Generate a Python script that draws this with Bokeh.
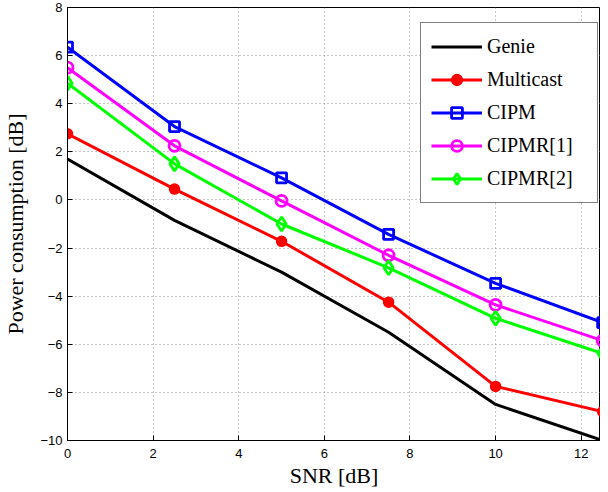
from bokeh.plotting import figure
from bokeh.models import FixedTicker, Range1d, Legend, LegendItem
from bokeh.embed import file_html
from bokeh.resources import INLINE

snr = [0, 2.5, 5, 7.5, 10, 12.5]
genie = [1.7, -0.85, -3.0, -5.5, -8.5, -10.0]
multicast = [2.75, 0.45, -1.72, -4.25, -7.75, -8.8]
cipm = [6.35, 3.05, 0.92, -1.43, -3.47, -5.1]
cipmr1 = [5.5, 2.25, -0.04, -2.3, -4.36, -5.85]
cipmr2 = [4.85, 1.5, -1.0, -2.82, -4.92, -6.38]

x_ticks = [0, 2, 4, 6, 8, 10, 12]
y_ticks = [-10, -8, -6, -4, -2, 0, 2, 4, 6, 8]

p = figure(width=600, height=491, output_backend="svg", toolbar_location=None,
           x_range=Range1d(0, 12.45), y_range=Range1d(-10, 8),
           min_border_left=62, min_border_right=0, min_border_top=7, min_border_bottom=51)

p.background_fill_color = "white"
p.border_fill_color = "white"
p.outline_line_color = "black"
p.outline_line_width = 1

for ax in (p.xaxis[0], p.yaxis[0]):
    ax.major_tick_in = 5
    ax.major_tick_out = 0
    ax.minor_tick_line_color = None
    ax.axis_line_color = "black"
    ax.major_tick_line_color = "black"
    ax.major_label_text_font = "Liberation Sans"
    ax.major_label_text_font_size = "13px"
    ax.major_label_text_color = "black"
    ax.axis_label_text_font = "Liberation Serif"
    ax.axis_label_text_font_size = "22px"
    ax.axis_label_text_font_style = "normal"
    ax.axis_label_text_color = "black"

p.xaxis.ticker = FixedTicker(ticks=x_ticks)
p.yaxis.ticker = FixedTicker(ticks=y_ticks)
p.xaxis.major_label_overrides = {t: str(t).replace("-", "\u2212") for t in x_ticks}
p.yaxis.major_label_overrides = {t: str(t).replace("-", "\u2212") for t in y_ticks}
p.xaxis.axis_label = "SNR [dB]"
p.yaxis.axis_label = "Power consumption [dB]"
p.xaxis.major_label_standoff = 8
p.xaxis.axis_label_standoff = 2
p.yaxis.major_label_standoff = 5
p.yaxis.axis_label_standoff = 9

for g in (p.xgrid[0], p.ygrid[0]):
    g.grid_line_color = "#8c8c8c"
    g.grid_line_dash = "1 3"
    g.grid_line_width = 1
p.xgrid.ticker = FixedTicker(ticks=x_ticks)
p.ygrid.ticker = FixedTicker(ticks=y_ticks)

lw = 3
items = []
r = p.line(snr, genie, line_color="black", line_width=lw)
items.append(LegendItem(label="Genie", renderers=[r]))

r1 = p.line(snr, multicast, line_color="#ff0000", line_width=lw)
r2 = p.scatter(snr, multicast, marker="circle", size=10, fill_color="#ff0000",
               line_color="#ff0000", line_width=1.5)
items.append(LegendItem(label="Multicast", renderers=[r1, r2]))

r1 = p.line(snr, cipm, line_color="#0000ff", line_width=lw)
r2 = p.scatter(snr, cipm, marker="square", size=10, fill_alpha=0,
               line_color="#0000ff", line_width=2.8)
items.append(LegendItem(label="CIPM", renderers=[r1, r2]))

r1 = p.line(snr, cipmr1, line_color="#ff00ff", line_width=lw)
r2 = p.scatter(snr, cipmr1, marker="circle", size=11, fill_alpha=0,
               line_color="#ff00ff", line_width=2.8)
items.append(LegendItem(label="CIPMR[1]", renderers=[r1, r2]))

r1 = p.line(snr, cipmr2, line_color="#00ff00", line_width=lw)
r2 = p.scatter(snr, cipmr2, marker="diamond", size=14, fill_alpha=0,
               line_color="#00ff00", line_width=2.8)
items.append(LegendItem(label="CIPMR[2]", renderers=[r1, r2]))

legend = Legend(items=items, location=(353, 237))
legend.label_text_font = "Liberation Serif"
legend.label_text_font_size = "20px"
legend.label_text_color = "black"
legend.glyph_width = 51
legend.glyph_height = 27
legend.label_height = 27
legend.label_width = 100
legend.label_standoff = 5
legend.spacing = 6
legend.padding = 10
legend.margin = 0
legend.border_line_color = "black"
legend.border_line_width = 1.5
legend.background_fill_color = "white"
legend.background_fill_alpha = 1
p.add_layout(legend, "center")

open("out.html", "w").write(file_html(p, INLINE))
